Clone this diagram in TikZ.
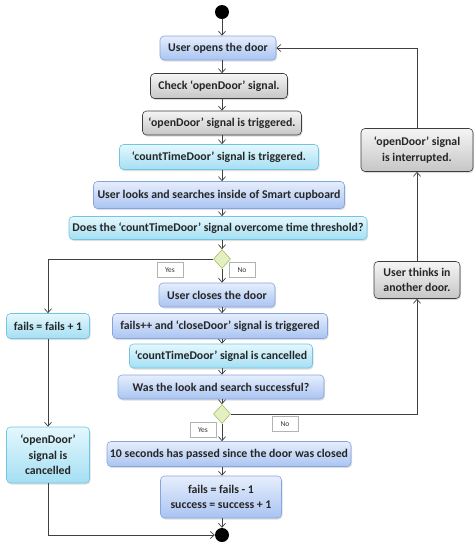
\documentclass[tikz,border=0pt]{standalone}
\usepackage{fontspec}
\setmainfont{Carlito}
\usetikzlibrary{shapes.geometric,shadows,arrows.meta}

\definecolor{bluetop}{HTML}{E6EEFC}
\definecolor{bluebot}{HTML}{A9C4F2}
\definecolor{blueline}{HTML}{86A5DD}
\definecolor{cyantop}{HTML}{E4F7FD}
\definecolor{cyanbot}{HTML}{A4DFF3}
\definecolor{cyanline}{HTML}{72C5E2}
\definecolor{graytop}{HTML}{F5F5F5}
\definecolor{graybot}{HTML}{C6C6C6}
\definecolor{grayline}{HTML}{3C3C3C}
\definecolor{greenfill}{HTML}{E4F0C2}
\definecolor{greenline}{HTML}{A3BF66}
\definecolor{wire}{HTML}{404040}

\tikzset{
  box/.style={rounded corners=4pt, line width=0.6pt, align=center, inner sep=1pt,
    font=\bfseries\fontsize{11.8}{15.5}\selectfont, text=black!85,
    drop shadow={opacity=0.25, shadow xshift=1pt, shadow yshift=-1.5pt}},
  bluebox/.style={box, draw=blueline, top color=bluetop, bottom color=bluebot},
  cyanbox/.style={box, draw=cyanline, top color=cyantop, bottom color=cyanbot},
  graybox/.style={box, draw=grayline, top color=graytop, bottom color=graybot},
  choice/.style={diamond, draw=greenline, fill=greenfill, line width=0.6pt,
    inner sep=0pt, minimum width=17pt, minimum height=19pt},
  dot/.style={circle, fill=black, inner sep=0pt, minimum size=14pt},
  tag/.style={draw=gray!60, fill=white, font=\fontsize{7.5}{8}\selectfont, text=black!80,
    inner sep=1pt, minimum width=26pt, minimum height=15pt},
  arr/.style={draw=wire, line width=0.7pt, -{Straight Barb[length=4pt,width=7pt]}}
}

\begin{document}
\begin{tikzpicture}[x=1pt,y=-1pt]
  \useasboundingbox (0,0) rectangle (476,550);

  % main column
  \node[dot] (start) at (222,12) {};
  \node[bluebox, minimum width=116pt, minimum height=24pt] (open) at (218,48) {User opens the door};
  \node[graybox, minimum width=137pt, minimum height=25pt] (check) at (219,86) {Check ‘openDoor’ signal.};
  \node[graybox, minimum width=159pt, minimum height=24pt] (trig) at (222,123) {‘openDoor’ signal is triggered.};
  \node[cyanbox, minimum width=199pt, minimum height=25pt] (count) at (219,157) {‘countTimeDoor’ signal is triggered.};
  \node[bluebox, minimum width=251pt, minimum height=27pt] (look) at (219,195) {User looks and searches inside of Smart cupboard};
  \node[cyanbox, minimum width=298pt, minimum height=23pt] (does) at (218,228) {Does the ‘countTimeDoor’ signal overcome time threshold?};
  \node[choice] (d1) at (222,259) {};
  \node[bluebox, minimum width=116pt, minimum height=24pt] (closes) at (217,295) {User closes the door};
  \node[bluebox, minimum width=215pt, minimum height=25pt] (failspp) at (220,326) {fails++ and ‘closeDoor’ signal is triggered};
  \node[cyanbox, minimum width=183pt, minimum height=24pt] (cancelled) at (221,356) {‘countTimeDoor’ signal is cancelled};
  \node[bluebox, minimum width=206pt, minimum height=24pt] (was) at (221,387) {Was the look and search successful?};
  \node[choice] (d2) at (222,414) {};
  \node[bluebox, minimum width=244pt, minimum height=25pt] (ten) at (229,454) {10 seconds has passed since the door was closed};
  \node[bluebox, minimum width=121pt, minimum height=42pt] (score) at (221,497) {fails = fails - 1\\success = success + 1};
  \node[dot] (end) at (222,535) {};

  % labels on the choices
  \node[tag] (yes1) at (170,270) {Yes};
  \node[tag] (no1) at (242,270) {No};
  \node[tag] (yes2) at (203,430) {Yes};
  \node[tag] (no2) at (285,424) {No};

  % left branch
  \node[cyanbox, minimum width=83pt, minimum height=25pt] (failinc) at (48,326) {fails = fails + 1};
  \node[cyanbox, minimum width=83pt, minimum height=56pt] (drop) at (48,455) {‘openDoor’\\signal is\\cancelled};

  % right branch
  \node[graybox, minimum width=86pt, minimum height=37pt] (think) at (417,280) {User thinks in\\another door.};
  \node[graybox, minimum width=112pt, minimum height=43pt] (broken) at (417,150) {‘openDoor’ signal\\is interrupted.};

  \foreach \a/\b in {start/open, open/check, check/trig, trig/count, count/look,
      look/does, does/d1, d1/closes, closes/failspp, failspp/cancelled,
      cancelled/was, was/d2, d2/ten, ten/score, score/end}
    \draw[arr] (start |- \a.south) -- (start |- \b.north);

  \draw[arr] (d1.west) -| (failinc.north);
  \draw[arr] (failinc) -- (drop);
  \draw[arr] (drop.south) |- (end.west);

  \draw[arr] (d2.east) -| (think.south);
  \draw[arr] (think) -- (broken);
  \draw[arr] (broken.north) |- (open.east);
\end{tikzpicture}
\end{document}
